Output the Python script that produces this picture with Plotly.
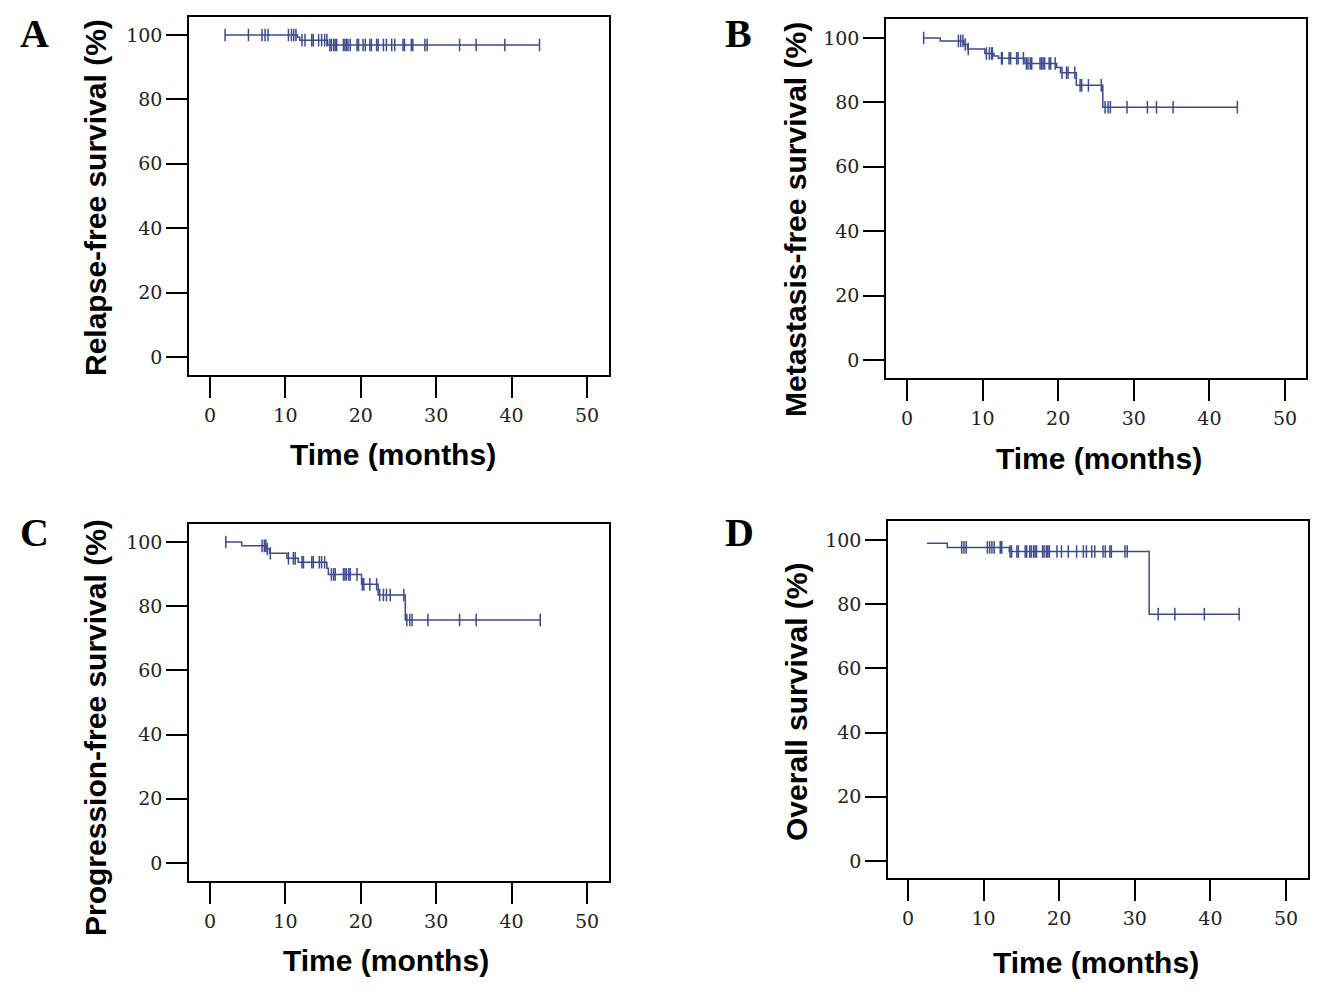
import plotly.graph_objects as go

# The page body has an 8 px margin, so the figure is drawn smaller and
# all pixel positions below (measured on the 1328x992 picture) are shifted by OFF.
OFF = 8
W, H = 1328 - 2 * OFF, 992 - 2 * OFF
LINE_COLOR = "#3b4b8e"

# ---------------- data ----------------
# Panel A: Relapse-free survival
a_start_time = 2.0
a_start_level = 100.0
a_step_times = [11.6, 11.9, 15.6]
a_step_levels = [99.3, 98.4, 96.9]
a_end_time = 43.7
a_censor = [2.0, 5.1, 6.9, 7.3, 7.7, 10.4, 10.8, 11.1, 11.4, 12.2, 12.6, 13.5, 13.7,
            14.4, 14.8, 15.2, 15.5, 15.9, 16.1, 16.4, 16.6, 16.8, 17.7, 17.9, 18.1,
            18.3, 18.6, 19.5, 19.7, 20.3, 20.6, 21.2, 21.4, 22.1, 22.3, 23.0, 23.4,
            24.1, 24.5, 25.6, 25.8, 26.7, 26.9, 28.5, 28.8, 33.1, 35.3, 39.1, 43.7]

# Panel B: Metastasis-free survival
b_start_time = 2.2
b_start_level = 100.0
b_step_times = [4.4, 7.5, 8.0, 10.3, 11.5, 12.1, 15.6, 19.8, 20.3, 22.4, 25.9]
b_step_levels = [99.1, 98.0, 96.6, 95.2, 94.4, 93.7, 92.1, 90.8, 89.2, 85.3, 78.5]
b_end_time = 43.7
b_censor = [2.2, 6.8, 7.1, 7.4, 7.7, 8.1, 10.5, 10.9, 11.2, 11.3, 12.5, 12.6, 13.5,
            13.7, 14.5, 14.7, 15.4, 15.8, 16.0, 16.3, 16.5, 17.6, 17.8, 18.0, 18.2,
            18.8, 19.0, 19.6, 20.5, 21.1, 21.3, 22.2, 22.9, 23.1, 24.0, 25.7, 26.2,
            26.6, 26.9, 29.1, 31.8, 33.0, 35.2, 43.7]

# Panel C: Progression-free survival
c_start_time = 2.1
c_start_level = 100.0
c_step_times = [4.2, 7.5, 7.9, 10.2, 11.7, 15.5, 15.7, 20.1, 22.3, 25.9]
c_step_levels = [98.8, 97.8, 96.5, 94.9, 93.7, 91.8, 89.9, 86.8, 83.5, 75.7]
c_end_time = 43.8
c_censor = [2.1, 6.9, 7.2, 7.4, 7.6, 8.0, 10.4, 11.05, 11.3, 12.2, 12.4, 13.5, 13.7,
            14.5, 14.8, 15.2, 16.1, 16.4, 16.6, 17.7, 17.9, 18.1, 18.4, 18.6, 19.5,
            20.2, 20.4, 21.2, 22.1, 22.5, 23.0, 23.4, 23.9, 25.7, 26.1, 26.5, 26.8,
            28.9, 33.1, 35.3, 43.8]

# Panel D: Overall survival
d_start_time = 2.5
d_start_level = 99.0
d_step_times = [5.2, 13.4, 31.9]
d_step_levels = [97.7, 96.4, 76.9]
d_end_time = 43.8
d_censor = [7.1, 7.4, 7.7, 10.5, 10.8, 11.1, 11.4, 12.2, 12.4, 13.5, 13.7, 14.4, 14.6,
            15.5, 15.7, 16.1, 16.3, 16.6, 16.8, 17.0, 17.8, 18.0, 18.3, 18.5, 18.7,
            19.7, 20.3, 21.2, 22.3, 23.2, 23.6, 24.3, 24.7, 25.8, 26.1, 26.7, 26.9,
            28.7, 29.0, 33.1, 35.3, 39.2, 43.8]

x_tick_vals = [0, 10, 20, 30, 40, 50]
y_tick_vals = [0, 20, 40, 60, 80, 100]

y_titles = ["Relapse-free survival (%)", "Metastasis-free survival (%)",
            "Progression-free survival (%)", "Overall survival (%)"]
x_title = "Time (months)"
panel_letters = ["A", "B", "C", "D"]

panels = [
    (a_start_time, a_start_level, a_step_times, a_step_levels, a_end_time, a_censor),
    (b_start_time, b_start_level, b_step_times, b_step_levels, b_end_time, b_censor),
    (c_start_time, c_start_level, c_step_times, c_step_levels, c_end_time, c_censor),
    (d_start_time, d_start_level, d_step_times, d_step_levels, d_end_time, d_censor),
]

# ---------------- layout geometry (pixels on the reference picture) ----------------
boxes = [
    dict(l=189, r=609, t=17, b=375, x0=210, xs=7.54, y0=357, ys=3.22),
    dict(l=886, r=1306, t=19, b=378, x0=907, xs=7.56, y0=360, ys=3.22),
    dict(l=189, r=609, t=524, b=881, x0=210, xs=7.54, y0=863, ys=3.21),
    dict(l=888, r=1308, t=521, b=878, x0=908, xs=7.56, y0=861, ys=3.21),
]
ytitle_pos = [(95, 198), (796, 220), (95, 728), (796, 702)]
xtitle_pos = [(393, 455), (1099, 458), (386, 960), (1096, 962)]
letter_pos = [(34, 33), (738, 33), (34, 532), (739, 532)]


def px(x):
    return (x - OFF) / W


def py(y):
    return 1 - (y - OFF) / H


fig = go.Figure()
layout = dict(width=W, height=H, autosize=False,
              margin=dict(l=0, r=0, t=0, b=0),
              paper_bgcolor="white", plot_bgcolor="white",
              showlegend=False, annotations=[])


def level_at(t, start_level, step_times, step_levels):
    lev = start_level
    for st, sl in zip(step_times, step_levels):
        if t >= st:
            lev = sl
    return lev


for i, (p, bx) in enumerate(zip(panels, boxes)):
    st, sl, stimes, slevels, et, cens = p
    xs = [st] + stimes + [et]
    ys = [sl] + slevels + [slevels[-1]]
    suffix = "" if i == 0 else str(i + 1)
    xa, ya = "x" + suffix, "y" + suffix
    fig.add_trace(go.Scatter(x=xs, y=ys, mode="lines", line_shape="hv",
                             line=dict(color=LINE_COLOR, width=1.5),
                             xaxis=xa, yaxis=ya, hoverinfo="skip"))
    cy = [level_at(t, sl, stimes, slevels) for t in cens]
    fig.add_trace(go.Scatter(x=cens, y=cy, mode="markers",
                             marker=dict(symbol="line-ns", size=9,
                                         line=dict(color=LINE_COLOR, width=1.5)),
                             xaxis=xa, yaxis=ya, hoverinfo="skip"))

    xr = [(bx["l"] - bx["x0"]) / bx["xs"], (bx["r"] - bx["x0"]) / bx["xs"]]
    yr = [(bx["y0"] - bx["b"]) / bx["ys"], (bx["y0"] - bx["t"]) / bx["ys"]]
    common = dict(showline=True, linecolor="black", linewidth=1.5, mirror=True,
                  ticks="outside", ticklen=21, tickwidth=1.5, tickcolor="black",
                  showgrid=False, zeroline=False,
                  tickfont=dict(family="DejaVu Serif", size=19, color="#222"))
    layout["xaxis" + suffix] = dict(common, domain=[px(bx["l"]), px(bx["r"])],
                                    range=xr, tickvals=x_tick_vals,
                                    anchor=ya, ticklabelstandoff=1)
    layout["yaxis" + suffix] = dict(common, domain=[py(bx["b"]), py(bx["t"])],
                                    range=yr, tickvals=y_tick_vals,
                                    anchor=xa)

    tx, ty = ytitle_pos[i]
    layout["annotations"].append(dict(text="<b>%s</b>" % y_titles[i], x=px(tx), y=py(ty),
                                      xref="paper", yref="paper", showarrow=False,
                                      textangle=-90, xanchor="center", yanchor="middle",
                                      font=dict(family="Liberation Sans", size=30, color="black")))
    tx, ty = xtitle_pos[i]
    layout["annotations"].append(dict(text="<b>%s</b>" % x_title, x=px(tx), y=py(ty),
                                      xref="paper", yref="paper", showarrow=False,
                                      xanchor="center", yanchor="middle",
                                      font=dict(family="Liberation Sans", size=30, color="black")))
    tx, ty = letter_pos[i]
    layout["annotations"].append(dict(text="<b>%s</b>" % panel_letters[i], x=px(tx), y=py(ty),
                                      xref="paper", yref="paper", showarrow=False,
                                      xanchor="center", yanchor="middle",
                                      font=dict(family="Liberation Serif", size=40, color="black")))

fig.update_layout(**layout)
fig.write_html("out.html")
